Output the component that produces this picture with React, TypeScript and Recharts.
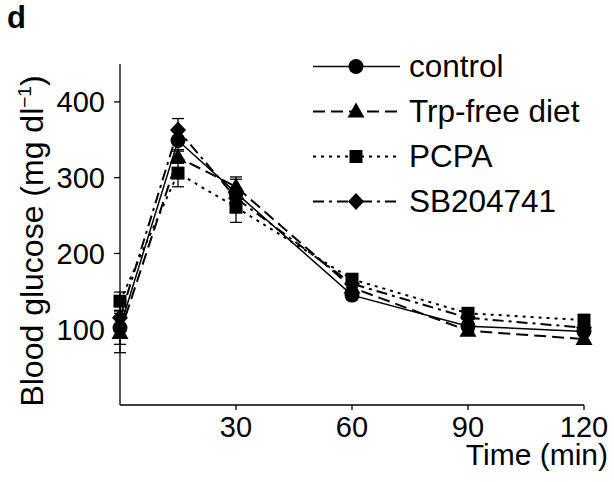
import React from 'react';
import { LineChart, Line, XAxis, YAxis, ErrorBar, Legend } from 'recharts';

const times = [0, 15, 30, 60, 90, 120];
const controlMean = [102, 349, 280, 145, 104, 97];
const controlErr = [22, 12, 18, 6, 5, 5];
const trpMean = [95, 327, 288, 155, 98, 87];
const trpErr = [26, 8, 13, 5, 5, 5];
const pcpaMean = [137, 306, 261, 166, 121, 112];
const pcpaErr = [12, 18, 20, 5, 5, 5];
const sbMean = [115, 363, 273, 160, 115, 102];
const sbErr = [26, 15, 12, 5, 5, 5];
const xTicks = [30, 60, 90, 120];
const yTicks = [100, 200, 300, 400];
const seriesNames = ['control', 'Trp-free diet', 'PCPA', 'SB204741'];

const FONT = '"Liberation Sans", Arial, Helvetica, sans-serif';

const data = times.map((t, i) => ({
  t,
  control: controlMean[i],
  controlE: controlErr[i],
  trp: trpMean[i],
  trpE: trpErr[i],
  pcpa: pcpaMean[i],
  pcpaE: pcpaErr[i],
  sb: sbMean[i],
  sbE: sbErr[i],
}));

type Shape = 'circle' | 'triangle' | 'square' | 'diamond';

const series: { key: string; err: string; name: string; dash?: string; width: number; shape: Shape }[] = [
  { key: 'control', err: 'controlE', name: seriesNames[0], width: 1.5, shape: 'circle' },
  { key: 'trp', err: 'trpE', name: seriesNames[1], dash: '12 6', width: 2, shape: 'triangle' },
  { key: 'pcpa', err: 'pcpaE', name: seriesNames[2], dash: '3 5', width: 2, shape: 'square' },
  { key: 'sb', err: 'sbE', name: seriesNames[3], dash: '11 5 3 5', width: 2, shape: 'diamond' },
];

function Marker({ cx, cy, shape }: { cx: number; cy: number; shape: Shape }) {
  if (cx == null || cy == null) return null;
  if (shape === 'circle') return <circle cx={cx} cy={cy} r={7.5} fill="#000" />;
  if (shape === 'triangle')
    return <polygon points={`${cx},${cy - 9} ${cx - 8.5},${cy + 6} ${cx + 8.5},${cy + 6}`} fill="#000" />;
  if (shape === 'square') return <rect x={cx - 6.5} y={cy - 6.5} width={13} height={13} fill="#000" />;
  return <polygon points={`${cx},${cy - 8.5} ${cx + 8},${cy} ${cx},${cy + 8.5} ${cx - 8},${cy}`} fill="#000" />;
}

function LegendContent() {
  return (
    <div style={{ fontFamily: FONT }}>
      {series.map((s) => (
        <div key={s.key} style={{ display: 'flex', alignItems: 'center', height: 45 }}>
          <svg width={96} height={45} style={{ display: 'block' }}>
            <line x1={0} y1={22.5} x2={87} y2={22.5} stroke="#000" strokeWidth={s.width} strokeDasharray={s.dash} />
            <Marker cx={43} cy={22.5} shape={s.shape} />
          </svg>
          <span style={{ fontSize: 31.5, color: '#000', lineHeight: '45px', whiteSpace: 'nowrap' }}>{s.name}</span>
        </div>
      ))}
    </div>
  );
}

export default function App() {
  return (
    <div style={{ position: 'absolute', left: 0, top: 0, width: 614, height: 482, background: '#fff' }}>
      <LineChart
        width={614}
        height={482}
        data={data}
        margin={{ top: 64, right: 30, bottom: 47, left: 0 }}
      >
        <XAxis
          dataKey="t"
          type="number"
          domain={[0, 120]}
          ticks={xTicks}
          height={30}
          tickSize={5}
          tickMargin={6}
          axisLine={{ stroke: '#000', strokeWidth: 1.3 }}
          tickLine={{ stroke: '#000', strokeWidth: 1.3 }}
          tick={{ fill: '#000', fontSize: 29, fontFamily: FONT }}
        />
        <YAxis
          type="number"
          domain={[0, 450]}
          ticks={yTicks}
          width={120}
          tickSize={6}
          tickMargin={9}
          axisLine={{ stroke: '#000', strokeWidth: 1.3 }}
          tickLine={{ stroke: '#000', strokeWidth: 1.3 }}
          tick={{ fill: '#000', fontSize: 29, fontFamily: FONT }}
        />
        <Legend
          layout="vertical"
          align="center"
          verticalAlign="middle"
          content={<LegendContent />}
          wrapperStyle={{ left: 313, top: 44, width: 300, height: 180 }}
        />
        {series.map((s) => (
          <Line
            key={s.key}
            dataKey={s.key}
            name={s.name}
            stroke="#000"
            strokeWidth={s.width}
            strokeDasharray={s.dash}
            isAnimationActive={false}
            activeDot={false}
            dot={(p: any) => <Marker key={`${s.key}-${p.index}`} cx={p.cx} cy={p.cy} shape={s.shape} />}
          >
            <ErrorBar dataKey={s.err} direction="y" width={6} stroke="#000" strokeWidth={1.3} isAnimationActive={false} />
          </Line>
        ))}
      </LineChart>
      <svg
        width={614}
        height={482}
        style={{ position: 'absolute', left: 0, top: 0, pointerEvents: 'none' }}
      >
        <text x={7} y={28} fontFamily={FONT} fontWeight="bold" fontSize={31} fill="#000">d</text>
        <text
          x={43}
          y={241}
          transform="rotate(-90 43 241)"
          textAnchor="middle"
          fontFamily={FONT}
          fontSize={32}
          fill="#000"
        >
          Blood glucose (mg dl<tspan dy={-12} fontSize={19}>−1</tspan><tspan dy={12}>)</tspan>
        </text>
        <text x={608} y={465} textAnchor="end" fontFamily={FONT} fontSize={30} fill="#000">Time (min)</text>
      </svg>
    </div>
  );
}
